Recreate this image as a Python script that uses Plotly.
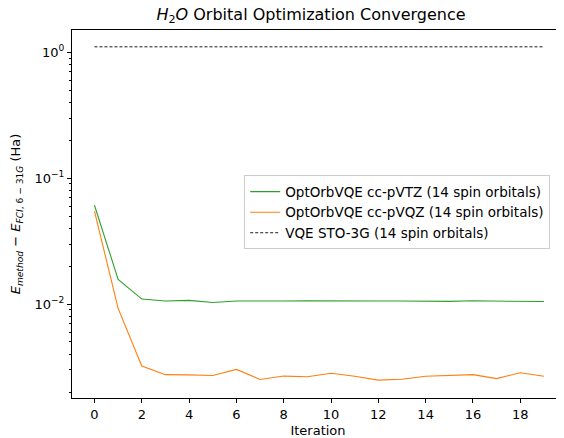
import plotly.graph_objects as go

iterations = list(range(20))
vtz_err = [0.0610, 0.0157, 0.01096, 0.01057, 0.0107, 0.0103, 0.01057, 0.0105, 0.01057, 0.0106,
           0.01062, 0.01068, 0.01057, 0.01057, 0.0105, 0.0105, 0.01062, 0.01053, 0.0105, 0.01047]
vqz_err = [0.0547, 0.00925, 0.00322, 0.00275, 0.00274, 0.00271, 0.00303, 0.00252, 0.00268, 0.00265,
           0.00282, 0.00267, 0.00249, 0.00253, 0.00267, 0.00271, 0.00275, 0.00256, 0.00285, 0.00267]
sto3g_err = [1.105] * 20

names = ["OptOrbVQE cc-pVTZ (14 spin orbitals)",
         "OptOrbVQE cc-pVQZ (14 spin orbitals)",
         "VQE STO-3G (14 spin orbitals)"]
colors = ["#2ca02c", "#ff7f0e", "#000000"]

xticks = list(range(0, 20, 2))
ytickvals = [1, 0.1, 0.01]
yticktext = ["10<sup>0</sup>", "10<sup>−1</sup>", "10<sup>−2</sup>"]

FONT = "DejaVu Sans, Arial, sans-serif"

fig = go.Figure()
fig.add_trace(go.Scatter(x=iterations, y=vtz_err, mode="lines", name=names[0],
                         line=dict(color=colors[0], width=1.1)))
fig.add_trace(go.Scatter(x=iterations, y=vqz_err, mode="lines", name=names[1],
                         line=dict(color=colors[1], width=1.1)))
fig.add_trace(go.Scatter(x=iterations, y=sto3g_err, mode="lines", name=names[2],
                         line=dict(color=colors[2], width=0.9, dash="3px,2px")))

# page body has an 8px default margin, so the figure is sized to fill the rest of the window
fig.update_layout(
    width=556, height=430,
    margin=dict(l=64, r=0, t=22, b=40, autoexpand=False),
    paper_bgcolor="white", plot_bgcolor="white",
    font=dict(family=FONT, size=13, color="black"),
    title=dict(text="<i>H</i><sub>2</sub><i>O</i> Orbital Optimization Convergence",
               x=0.545, xref="container", y=0.999, yref="container", xanchor="center", yanchor="top",
               font=dict(size=16, family=FONT)),
    showlegend=True,
    legend=dict(x=0.35, y=0.605, xanchor="left", yanchor="top",
                bgcolor="rgba(255,255,255,0.8)", bordercolor="#cccccc", borderwidth=1,
                font=dict(size=13.5, family=FONT), tracegroupgap=0, itemwidth=30),
)
fig.update_xaxes(
    automargin=False,
    range=[-0.95, 19.85], tickvals=xticks, ticks="outside", ticklen=4, tickwidth=1,
    tickcolor="black", showline=True, linecolor="black", linewidth=1, mirror=True,
    showgrid=False, zeroline=False,
    title=dict(text="Iteration", font=dict(size=13), standoff=5),
    tickfont=dict(size=13),
)
fig.update_yaxes(
    automargin=False,
    type="log", range=[-2.746, 0.177], tickvals=ytickvals, ticktext=yticktext,
    ticks="outside", ticklen=4, tickwidth=1, tickcolor="black",
    showline=True, linecolor="black", linewidth=1, mirror=False,
    showgrid=False, zeroline=False,
    minor=dict(ticks="outside", ticklen=2, tickwidth=0.8, tickcolor="black", dtick="D1", showgrid=False),
    title=dict(text="<i>E</i><sub><i>method</i></sub> − <i>E</i><sub><i>FCI</i>, 6 − 31<i>G</i></sub> (Ha)",
               font=dict(size=13), standoff=11),
    tickfont=dict(size=13),
)
fig.write_html("out.html")
